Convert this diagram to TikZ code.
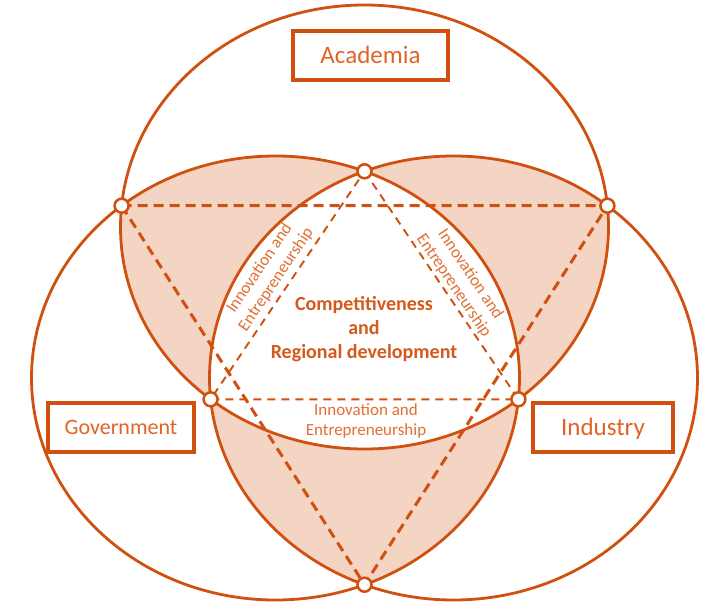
\documentclass[tikz,border=0pt]{standalone}
\usepackage{fontspec}
\setmainfont{Carlito}
\definecolor{ln}{RGB}{208,80,16}
\definecolor{tx}{RGB}{224,100,38}
\definecolor{txb}{RGB}{212,90,28}
\definecolor{txs}{RGB}{226,112,52}
\definecolor{fl}{RGB}{244,213,196}
\begin{document}
\begin{tikzpicture}[x=1pt,y=-1pt,
  ring/.style={draw=ln,line width=2.8pt},
  bigdash/.style={draw=ln,line width=3pt,dash pattern=on 10pt off 6pt},
  smalldash/.style={draw=ln,line width=1.9pt,dash pattern=on 8pt off 6pt},
  junc/.style={circle,draw=ln,fill=white,line width=2.5pt,minimum size=14pt,inner sep=0pt},
  lbox/.style={draw=ln,fill=white,line width=3.3pt,text=tx,minimum height=49pt,
    text depth=0pt,inner sep=0pt},
  smalltxt/.style={text=txs,align=center,font=\fontsize{17}{20}\selectfont,inner sep=0pt}
]
\useasboundingbox (0,0) rectangle (705,605);
\def\TopE{(364.5,227) ellipse [x radius=244, y radius=222]}
\def\LeftE{(275.5,378) ellipse [x radius=244, y radius=222]}
\def\RightE{(453.5,378) ellipse [x radius=244, y radius=222]}
% shaded pairwise overlaps
\begin{scope}\clip \TopE; \fill[fl] \LeftE; \fill[fl] \RightE; \end{scope}
\begin{scope}\clip \LeftE; \fill[fl] \RightE; \end{scope}
\begin{scope}\clip \TopE; \clip \LeftE; \fill[white] \RightE; \end{scope}
% intersection points
\coordinate (L) at (121.6,205.7);
\coordinate (R) at (607.4,205.7);
\coordinate (B) at (364.5,584.7);
\coordinate (T) at (364.5,171.3);
\coordinate (GL) at (210.6,399.3);
\coordinate (GR) at (518.4,399.3);
% dashed triangles
\draw[bigdash] (L) -- (R) -- (B) -- cycle;
\draw[smalldash] (T) -- (GR) -- (GL) -- cycle;
% circles
\draw[ring] \TopE;
\draw[ring] \LeftE;
\draw[ring] \RightE;
% junction markers
\node[junc] (nL) at (L) {};
\node[junc] (nR) at (R) {};
\node[junc] (nB) at (B) {};
\node[junc] (nT) at (T) {};
\node[junc] (nGL) at (GL) {};
\node[junc] (nGR) at (GR) {};
% labelled boxes
\node[lbox,minimum width=155pt,text height=16pt,font=\fontsize{25}{30}\selectfont] (acad) at (370.5,55.5) {Academia};
\node[lbox,minimum width=146pt,text height=14.2pt,font=\fontsize{22}{26}\selectfont] (gov) at (121,427.5) {Government};
\node[lbox,minimum width=140pt,text height=16pt,font=\fontsize{25}{30}\selectfont] (ind) at (603,427.5) {Industry};
% centre text
\node[text=txb,align=center,font=\bfseries\fontsize{20}{24}\selectfont,inner sep=0pt] (ctr) at (364,329)
  {Competitiveness\\and\\Regional development};
% innovation labels
\node[smalltxt,rotate=56] (ieL) at (268,274) {Innovation and\\Entrepreneurship};
\node[smalltxt,rotate=-56] (ieR) at (462,280) {Innovation and\\Entrepreneurship};
\node[smalltxt] (ieB) at (366,421) {Innovation and\\Entrepreneurship};
\end{tikzpicture}
\end{document}
